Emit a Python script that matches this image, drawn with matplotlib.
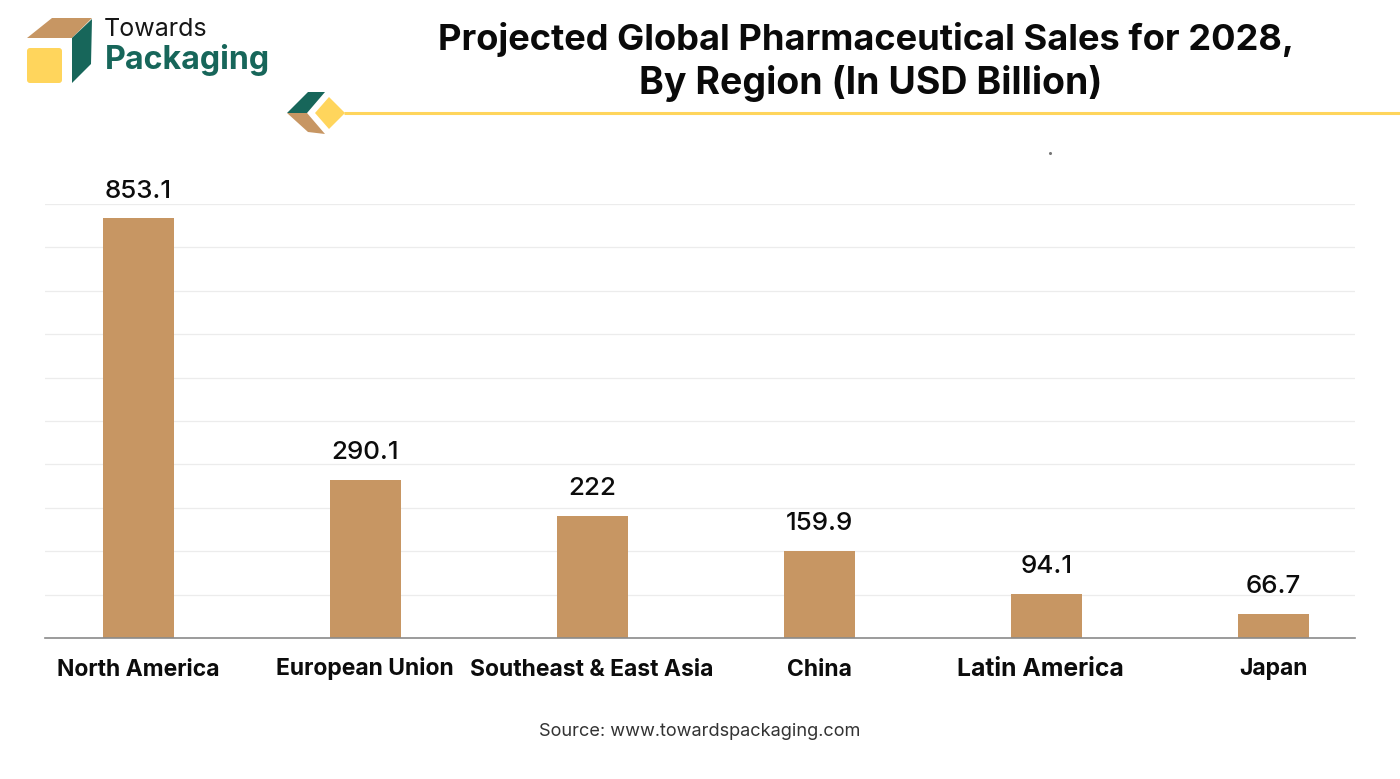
import matplotlib
matplotlib.use("Agg")
import matplotlib.pyplot as plt
from matplotlib.patches import Polygon, FancyBboxPatch

# bars are not drawn to scale in the source chart, so heights are read off the gridlines
regions = ["North America", "European Union", "Southeast & East Asia", "China", "Latin America", "Japan"]
bar_heights = [968, 364, 281, 200, 101, 55]
value_labels = ["853.1", "290.1", "222", "159.9", "94.1", "66.7"]
grid_ticks = [0, 100, 200, 300, 400, 500, 600, 700, 800, 900, 1000]

TAN = "#c79663"
GREEN = "#17665a"
YELLOW = "#ffd55c"
W, H = 1400, 779

plt.rcParams["font.family"] = ["Inter", "DejaVu Sans"]

fig = plt.figure(figsize=(W / 100, H / 100), dpi=100, facecolor="white")

# chart area, placed in pixels
left, right, top, bottom = 45, 1355, 204, 638
ax = fig.add_axes([left / W, 1 - bottom / H, (right - left) / W, (bottom - top) / H])
x = list(range(len(regions)))
ax.bar(x, bar_heights, width=0.313, color=TAN, zorder=3)
ax.set_xlim(-0.41, 5.36)
ax.set_ylim(0, 1000)
ax.set_yticks(grid_ticks)
ax.set_yticklabels([])

# the Latin America label sits a little left of its bar
tick_pos = list(x)
tick_pos[4] -= 6 / 227
ax.set_xticks(tick_pos)
ax.set_xticklabels(regions, fontsize=16.5, fontweight="bold", color="#0c0c0c", va="baseline")
ax.get_xticklabels()[4].set_fontsize(17.8)
ax.tick_params(axis="both", length=0)
ax.tick_params(axis="x", pad=27)
ax.grid(axis="y", color="#ececec", lw=0.9, zorder=0)
for s in ["top", "left", "right"]:
    ax.spines[s].set_visible(False)
ax.spines["bottom"].set_color("#8a8a8a")
ax.spines["bottom"].set_linewidth(1.2)
ax.spines["bottom"].set_zorder(4)

for i, h in enumerate(bar_heights):
    ax.annotate(value_labels[i], (i, h), xytext=(0, 26 if i == 0 else 28), textcoords="offset pixels",
                ha="center", va="center", fontsize=18.7, color="#0c0c0c", fontweight="medium",
                annotation_clip=False)

# header and logo drawn in a full figure overlay with pixel coordinates
over = fig.add_axes([0, 0, 1, 1], zorder=5)
over.set_xlim(0, W)
over.set_ylim(H, 0)
over.axis("off")

over.text(866, 39, "Projected Global Pharmaceutical Sales for 2028,", ha="center", va="center",
          fontsize=26.1, fontweight="bold", color="#0a0a0a")
over.text(871, 83, "By Region (In USD Billion)", ha="center", va="center",
          fontsize=27, fontweight="bold", color="#0a0a0a")

over.add_patch(Polygon([(27, 38), (52, 18), (92, 18), (72, 38)], color=TAN, lw=0))
over.add_patch(Polygon([(72, 38), (92, 19), (91, 64), (72, 83)], color=GREEN, lw=0))
over.add_patch(FancyBboxPatch((27, 48), 35, 35, boxstyle="round,pad=0,rounding_size=3", color=YELLOW, lw=0))
over.text(104, 29, "Towards", ha="left", va="center", fontsize=18, color="#161616")
over.text(105, 60, "Packaging", ha="left", va="center", fontsize=23.2, color=GREEN, fontweight="bold")

over.add_patch(Polygon([(287, 113), (308, 92), (325, 92), (307, 113)], color=GREEN, lw=0))
over.add_patch(Polygon([(287, 113), (307, 113), (325, 134), (308, 132)], color=TAN, lw=0))
over.add_patch(Polygon([(315, 113), (329, 97), (345, 113), (329, 129)], color=YELLOW, lw=0))
over.plot([344, 1400], [113, 113], color=YELLOW, lw=2.2, solid_capstyle="butt")
over.plot([1050], [153], marker="o", ms=1.2, color="#777777")

over.text(700, 731, "Source: www.towardspackaging.com", ha="center", va="center",
          fontsize=13.1, color="#333333")

plt.savefig("out.png", dpi=100)
